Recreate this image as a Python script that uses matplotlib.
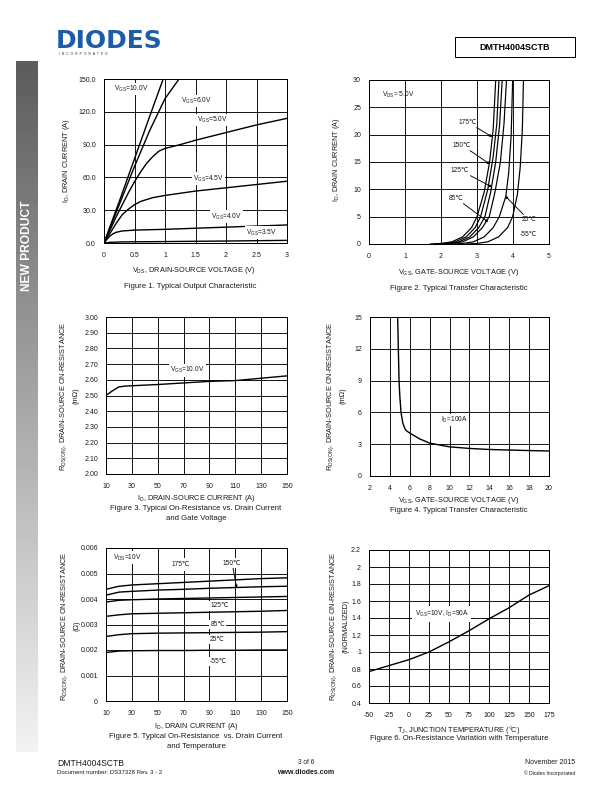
import numpy as np
import matplotlib.pyplot as plt
from matplotlib.patches import Rectangle

plt.rcParams['font.family'] = ['Liberation Sans', 'DejaVu Sans']
plt.rcParams['mathtext.fontset'] = 'custom'
plt.rcParams['mathtext.rm'] = 'Liberation Sans'
plt.rcParams['mathtext.it'] = 'Liberation Sans:italic'
plt.rcParams['mathtext.bf'] = 'Liberation Sans:bold'
plt.rcParams['axes.unicode_minus'] = False

W, H = 612, 792
TXT = '#1a1a1a'
DEG = '\u2103'

# ---- figure 1: output characteristic (VDS, ID) per VGS
f1_vgs10_x = [0, 0.25, 0.5, 0.75, 0.97]
f1_vgs10_y = [0, 38, 77, 116, 150]
f1_vgs6_x = [0, 0.25, 0.5, 0.75, 1.0, 1.23]
f1_vgs6_y = [0, 35, 70, 103, 132, 150]
f1_vgs5_x = [0, 0.1, 0.2, 0.3, 0.4, 0.5, 0.6, 0.7, 0.8, 0.9, 1.0, 1.25, 1.5, 2.0, 2.5, 3.0]
f1_vgs5_y = [0, 12, 24, 35, 46, 56, 65, 73, 79, 84, 86.5, 90, 94, 101, 108, 114]
f1_vgs45_x = [0, 0.1, 0.2, 0.3, 0.4, 0.5, 0.6, 0.8, 1.0, 1.5, 2.0, 2.5, 3.0]
f1_vgs45_y = [0, 9, 18, 26, 31, 35, 38, 41.5, 43.5, 47.5, 50.5, 53.5, 56.5]
f1_vgs4_x = [0, 0.05, 0.1, 0.15, 0.2, 0.3, 0.5, 1.0, 1.5, 2.0, 2.5, 3.0]
f1_vgs4_y = [0, 3.5, 6.5, 8.5, 9.8, 11, 11.8, 12.5, 13.5, 14.5, 15.5, 16.5]
f1_vgs35_x = [0, 0.1, 0.3, 1.0, 2.0, 3.0]
f1_vgs35_y = [0, 0.6, 1.0, 1.3, 1.8, 2.4]

# ---- figure 2: transfer characteristic (VGS, ID) per temperature
f2_t175_x = [1.7, 2.0, 2.3, 2.6, 2.85, 3.0, 3.2, 3.35, 3.45, 3.52]
f2_t175_y = [0, 0.1, 0.4, 1.3, 3, 5, 9.5, 15, 21, 30]
f2_t150_x = [1.8, 2.1, 2.4, 2.7, 2.95, 3.1, 3.3, 3.45, 3.55, 3.61]
f2_t150_y = [0, 0.1, 0.4, 1.3, 3, 5, 10, 16, 22, 30]
f2_t125_x = [1.9, 2.2, 2.5, 2.8, 3.05, 3.22, 3.38, 3.52, 3.63, 3.70]
f2_t125_y = [0, 0.1, 0.4, 1.3, 3, 5, 9.5, 15, 22, 30]
f2_t85_x = [2.0, 2.3, 2.6, 2.9, 3.15, 3.34, 3.5, 3.65, 3.75, 3.82]
f2_t85_y = [0, 0.1, 0.4, 1.3, 3, 5, 9.5, 15, 22, 30]
f2_t25_x = [2.3, 2.6, 2.9, 3.2, 3.45, 3.62, 3.8, 3.88, 3.95, 3.99]
f2_t25_y = [0, 0.1, 0.4, 1.3, 3, 5, 8.7, 13, 20, 30]
f2_tm55_x = [2.7, 3.0, 3.3, 3.6, 3.85, 3.99, 4.12, 4.2, 4.26, 4.29]
f2_tm55_y = [0, 0.1, 0.4, 1.3, 3, 5, 9, 14, 21, 30]

# ---- figure 3: RDS(on) vs ID
f3_id = [10, 15, 20, 25, 30, 50, 70, 90, 110, 130, 150]
f3_rds = [2.50, 2.53, 2.555, 2.56, 2.562, 2.57, 2.58, 2.59, 2.595, 2.61, 2.625]

# ---- figure 4: RDS(on) vs VGS
f4_vgs = [4.78, 4.85, 4.92, 5.0, 5.12, 5.3, 5.5, 5.62, 6.0, 7.0, 8.0, 10, 12, 14, 16, 18, 20]
f4_rds = [15, 12, 9, 7.5, 6, 5, 4.5, 4.3, 4.05, 3.5, 3.1, 2.75, 2.6, 2.5, 2.45, 2.4, 2.36]

# ---- figure 5: RDS(on) vs ID per temperature (mOhm, scaled to Ohm below)
f5_id = [10, 20, 30, 50, 70, 90, 110, 130, 150]
f5_t175 = [4.38, 4.50, 4.55, 4.60, 4.65, 4.70, 4.75, 4.80, 4.83]
f5_t150 = [4.15, 4.27, 4.30, 4.35, 4.38, 4.42, 4.45, 4.48, 4.50]
f5_t125 = [3.88, 3.95, 3.97, 4.00, 4.02, 4.04, 4.06, 4.08, 4.10]
f5_t85 = [3.32, 3.38, 3.42, 3.44, 3.46, 3.48, 3.50, 3.52, 3.55]
f5_t25 = [2.53, 2.60, 2.64, 2.66, 2.67, 2.68, 2.69, 2.70, 2.72]
f5_tm55 = [1.90, 1.96, 1.97, 1.98, 1.98, 1.99, 1.99, 2.00, 2.00]

# ---- figure 6: normalized RDS(on) vs Tj
f6_tj = [-50, -25, 0, 25, 50, 75, 100, 125, 150, 175]
f6_norm = [0.77, 0.84, 0.91, 1.0, 1.12, 1.25, 1.39, 1.52, 1.67, 1.78]

TICK = 7
LAB = 7.4
CAP = 7.7
ANN = 6.6


def px_axes(fig, x0, y0, x1, y1):
    return fig.add_axes([x0 / W, 1 - y1 / H, (x1 - x0) / W, (y1 - y0) / H])


def ftext(fig, x, y, s, **kw):
    kw.setdefault('color', TXT)
    kw.setdefault('va', 'center')
    fig.text(x / W, 1 - y / H, s, **kw)


def style(ax, xlim, ylim, xt, yt, xtl=None, ytl=None):
    ax.set_xlim(*xlim)
    ax.set_ylim(*ylim)
    ax.set_xticks(xt)
    ax.set_yticks(yt)
    if xtl is not None:
        ax.set_xticklabels(xtl)
    if ytl is not None:
        ax.set_yticklabels(ytl)
    ax.grid(True, color='black', lw=0.9)
    ax.set_axisbelow(True)
    ax.tick_params(length=0, labelsize=TICK, colors=TXT, pad=8)
    ax.tick_params(axis='x', pad=9)
    for s in ax.spines.values():
        s.set_linewidth(1.0)


box = dict(facecolor='white', edgecolor='none', pad=1.2)
lk = dict(color='black', lw=1.4)

fig = plt.figure(figsize=(W / 72, H / 72), dpi=72)

# side bar
sb = px_axes(fig, 16, 61, 37, 752)
grad = np.linspace(0.36, 0.95, 200).reshape(-1, 1)
sb.imshow(grad, cmap='gray', vmin=0, vmax=1, aspect='auto')
sb.axis('off')
ftext(fig, 27, 246, 'NEW PRODUCT', rotation=90, ha='center', color='white',
      fontsize=12, fontweight='bold')

# header
ftext(fig, 56, 41, 'DIODES', fontsize=25, fontweight='bold', color='#1d5ca8',
      ha='left', family='DejaVu Sans')
ftext(fig, 59, 54, 'I  N  C  O  R  P  O  R  A  T  E  D', fontsize=3.4,
      color='#333333', ha='left')
fig.patches.append(Rectangle((455 / W, 1 - 57 / H), 120 / W, 20 / H,
                             transform=fig.transFigure, fill=False, lw=1.0,
                             edgecolor='black'))
ftext(fig, 515, 47, 'DMTH4004SCTB', fontsize=9, fontweight='bold', ha='center',
      color='black')

# ---- figure 1
ax1 = px_axes(fig, 104, 79, 287, 243)
style(ax1, (0, 3), (0, 150), np.arange(0, 3.01, 0.5), np.arange(0, 151, 30),
      ['0', '0.5', '1', '1.5', '2', '2.5', '3'],
      ['0.0', '30.0', '60.0', '90.0', '120.0', '150.0'])
for xs, ys in [(f1_vgs10_x, f1_vgs10_y), (f1_vgs6_x, f1_vgs6_y),
               (f1_vgs5_x, f1_vgs5_y), (f1_vgs45_x, f1_vgs45_y),
               (f1_vgs4_x, f1_vgs4_y), (f1_vgs35_x, f1_vgs35_y)]:
    ax1.plot(xs, ys, **lk)
for x, y, s in [(0.16, 141, '10.0V'), (1.26, 130, '6.0V'), (1.53, 112.5, '5.0V'),
                (1.46, 59, '4.5V'), (1.75, 24, '4.0V'), (2.33, 9.5, '3.5V')]:
    ax1.text(x, y, r'V$_{\mathrm{GS}}$=' + s, fontsize=ANN, va='center', ha='left',
             color=TXT, bbox=box)
ftext(fig, 66, 161, r'I$_{\mathrm{D}}$, DRAIN CURRENT (A)', rotation=90,
      ha='center', fontsize=LAB)
ftext(fig, 194, 271, r'V$_{\mathrm{DS}}$, DRAIN-SOURCE VOLTAGE (V)', ha='center',
      fontsize=LAB)
ftext(fig, 190, 286, 'Figure 1. Typical Output Characteristic', ha='center',
      fontsize=CAP)

# ---- figure 2
ax2 = px_axes(fig, 369, 80, 549, 244)
style(ax2, (0, 5), (0, 30), np.arange(0, 6, 1), np.arange(0, 31, 5))
for xs, ys in [(f2_t175_x, f2_t175_y), (f2_t150_x, f2_t150_y),
               (f2_t125_x, f2_t125_y), (f2_t85_x, f2_t85_y),
               (f2_t25_x, f2_t25_y), (f2_tm55_x, f2_tm55_y)]:
    ax2.plot(xs, ys, color='black', lw=1.2)
ax2.text(0.35, 27.3, r'V$_{\mathrm{DS}}$= 5.0V', fontsize=ANN, va='center',
         color=TXT)
arr = dict(arrowstyle='-|>', color='black', lw=0.9, mutation_scale=5,
           shrinkA=0, shrinkB=0)
for tx, ty, s, ax_, ay in [(2.74, 22.3, '175' + DEG, 3.42, 19.6),
                           (2.58, 18.1, '150' + DEG, 3.36, 14.6),
                           (2.53, 13.5, '125' + DEG, 3.42, 10.4),
                           (2.42, 8.4, '85' + DEG, 3.31, 4.0),
                           (4.44, 4.4, '25' + DEG, 3.78, 8.8)]:
    ax2.annotate(s, xy=(ax_, ay), xytext=(tx, ty), fontsize=ANN, ha='center',
                 va='center', color=TXT, arrowprops=arr)
ax2.text(4.42, 1.8, '-55' + DEG, fontsize=ANN, ha='center', va='center',
         color=TXT)
ftext(fig, 336, 160, r'I$_{\mathrm{D}}$, DRAIN CURRENT (A)', rotation=90,
      ha='center', fontsize=LAB)
ftext(fig, 459, 273, r'V$_{\mathrm{GS}}$, GATE-SOURCE VOLTAGE (V)', ha='center',
      fontsize=LAB)
ftext(fig, 459, 288, 'Figure 2. Typical Transfer Characteristic', ha='center',
      fontsize=CAP)

# ---- figure 3
ax3 = px_axes(fig, 106, 317, 287, 474)
style(ax3, (10, 150), (2.0, 3.0), np.arange(10, 151, 20), np.arange(2.0, 3.01, 0.1),
      ytl=['%.2f' % v for v in np.arange(2.0, 3.01, 0.1)])
ax3.plot(f3_id, f3_rds, **lk)
ax3.text(72.9, 2.66, r'V$_{\mathrm{GS}}$=10.0V', fontsize=ANN, ha='center',
         va='center', color=TXT, bbox=box)
ftext(fig, 64, 396, r'R$_{\mathrm{DS(ON)}}$, DRAIN-SOURCE ON-RESISTANCE',
      rotation=90, ha='center', fontsize=LAB)
ftext(fig, 76, 396, '(m\u03a9)', rotation=90, ha='center', fontsize=LAB)
ftext(fig, 196, 499, r'I$_{\mathrm{D}}$, DRAIN-SOURCE CURRENT (A)', ha='center',
      fontsize=LAB)
ftext(fig, 196, 508, 'Figure 3. Typical On-Resistance vs. Drain Current',
      ha='center', fontsize=CAP)
ftext(fig, 196, 518, 'and Gate Voltage', ha='center', fontsize=CAP)

# ---- figure 4
ax4 = px_axes(fig, 370, 317, 549, 476)
style(ax4, (2, 20), (0, 15), np.arange(2, 21, 2), np.arange(0, 16, 3))
ax4.plot(f4_vgs, f4_rds, **lk)
ax4.text(10.5, 5.28, r'I$_{\mathrm{D}}$=100A', fontsize=ANN, ha='center',
         va='center', color=TXT, bbox=box)
ftext(fig, 331, 396, r'R$_{\mathrm{DS(ON)}}$, DRAIN-SOURCE ON-RESISTANCE',
      rotation=90, ha='center', fontsize=LAB)
ftext(fig, 343, 396, '(m\u03a9)', rotation=90, ha='center', fontsize=LAB)
ftext(fig, 459, 501, r'V$_{\mathrm{GS}}$, GATE-SOURCE VOLTAGE (V)', ha='center',
      fontsize=LAB)
ftext(fig, 459, 511, 'Figure 4. Typical Transfer Characteristic', ha='center',
      fontsize=CAP)

# ---- figure 5
ax5 = px_axes(fig, 106, 548, 287, 701)
style(ax5, (10, 150), (0, 0.006), np.arange(10, 151, 20),
      np.arange(0, 0.00601, 0.001),
      ytl=['0', '0.001', '0.002', '0.003', '0.004', '0.005', '0.006'])
for ys in [f5_t175, f5_t150, f5_t125, f5_t85, f5_t25, f5_tm55]:
    ax5.plot(f5_id, np.array(ys) / 1000, **lk)
ax5.text(15.2, 0.00562, r'V$_{\mathrm{DS}}$=10V', fontsize=ANN, va='center',
         color=TXT, bbox=box)
ax5.text(67.8, 0.00534, '175' + DEG, fontsize=ANN, ha='center', va='center',
         color=TXT, bbox=dict(facecolor='white', edgecolor='none', pad=3))
ax5.annotate('150' + DEG, xy=(111.1, 0.00443), xytext=(107.5, 0.00541),
             fontsize=ANN, ha='center', va='center', color=TXT,
             bbox=dict(facecolor='white', edgecolor='none', pad=1.5),
             arrowprops=arr)
for x, y, s in [(97.7, 0.00373, '125' + DEG), (96.4, 0.00301, '85' + DEG),
                (96.1, 0.00242, '25' + DEG), (96.9, 0.00154, '-55' + DEG)]:
    ax5.text(x, y, s, fontsize=ANN, ha='center', va='center', color=TXT,
             bbox=box)
ftext(fig, 65, 626, r'R$_{\mathrm{DS(ON)}}$, DRAIN-SOURCE ON-RESISTANCE',
      rotation=90, ha='center', fontsize=LAB)
ftext(fig, 77, 626, '(\u03a9)', rotation=90, ha='center', fontsize=LAB)
ftext(fig, 196, 727, r'I$_{\mathrm{D}}$, DRAIN CURRENT (A)', ha='center',
      fontsize=LAB)
ftext(fig, 196, 737, 'Figure 5. Typical On-Resistance  vs. Drain Current',
      ha='center', fontsize=CAP)
ftext(fig, 196, 746, 'and Temperature', ha='center', fontsize=CAP)

# ---- figure 6
ax6 = px_axes(fig, 369, 550, 549, 703)
style(ax6, (-50, 175), (0.4, 2.2), np.arange(-50, 176, 25),
      np.arange(0.4, 2.21, 0.2),
      ytl=['0.4', '0.6', '0.8', '1', '1.2', '1.4', '1.6', '1.8', '2', '2.2'])
ax6.plot(f6_tj, f6_norm, **lk)
ax6.text(40.9, 1.447, r'V$_{\mathrm{GS}}$=10V, I$_{\mathrm{D}}$=90A', fontsize=ANN,
         ha='center', va='center', color=TXT,
         bbox=dict(facecolor='white', edgecolor='none', pad=2.5))
ftext(fig, 334, 626, r'R$_{\mathrm{DS(ON)}}$, DRAIN-SOURCE ON-RESISTANCE',
      rotation=90, ha='center', fontsize=LAB)
ftext(fig, 346, 626, '(NORMALIZED)', rotation=90, ha='center', fontsize=LAB)
ftext(fig, 459, 730, r'T$_{\mathrm{J}}$, JUNCTION TEMPERATURE (' + '\u00b0C)',
      ha='center', fontsize=LAB)
ftext(fig, 459, 739, 'Figure 6. On-Resistance Variation with Temperature',
      ha='center', fontsize=CAP)

# footer
ftext(fig, 57, 763, 'DMTH4004SCTB', fontsize=8.5, ha='left')
ftext(fig, 57, 773, 'Document number: DS37328 Rev. 3 - 2', fontsize=6, ha='left')
ftext(fig, 306, 763, '3 of 6', fontsize=6.5, ha='center')
ftext(fig, 306, 773, 'www.diodes.com', fontsize=7, fontweight='bold',
      ha='center')
ftext(fig, 575, 763, 'November 2015', fontsize=7, ha='right')
ftext(fig, 575, 773, '\u00a9 Diodes Incorporated', fontsize=5, ha='right')

fig.savefig('out.png', dpi=72)
